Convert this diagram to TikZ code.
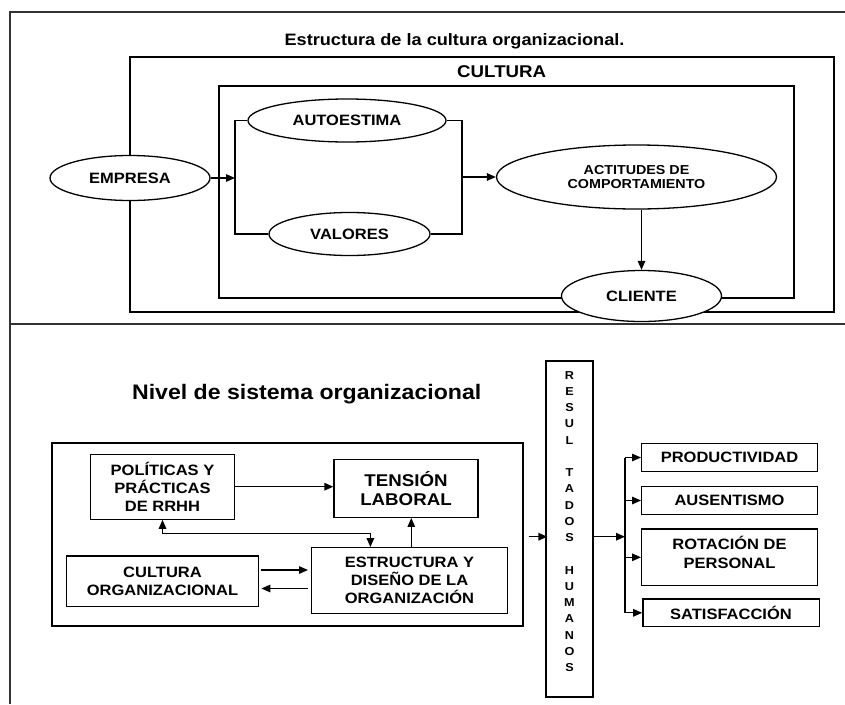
\documentclass[tikz,border=0pt]{standalone}
\usepackage{fontspec}
\setmainfont{Liberation Sans}[FakeStretch=1.1]
\usetikzlibrary{shapes.geometric,arrows.meta}

\begin{document}
\begin{tikzpicture}[x=1pt,y=-1pt,
  line width=1.3pt,
  arr/.style={-{Triangle[length=9pt,width=7.5pt]}},
  arrtwo/.style={{Triangle[length=9pt,width=7.5pt]}-{Triangle[length=9pt,width=7.5pt]}},
  oval/.style={ellipse,draw,fill=white,inner sep=0pt,align=center,
    font=\bfseries\fontsize{15}{17}\selectfont},
  box/.style={rectangle,draw,fill=white,inner sep=0pt,align=center,
    font=\bfseries\fontsize{15}{18.3}\selectfont},
  frameline/.style={draw=black!80,line width=1.8pt},
  heading/.style={inner sep=0pt,font=\bfseries\fontsize{#1}{#1}\selectfont}]
\useasboundingbox (0,0) rectangle (845,704);
\fill[white] (0,0) rectangle (845,704);

% page frame and divider
\draw[frameline] (845,12) -- (10,12) -- (10,704);
\draw[frameline] (10,324) -- (845,324);

% ---------- upper panel: culture structure ----------
\node[heading=16.5] (title) at (454.5,41) {Estructura de la cultura organizacional.};
\draw (130,57) rectangle (834,312);
\node[heading=17] (cultura) at (501.7,72) {CULTURA};
\draw (219,86) rectangle (794,298);

\node[oval,minimum width=160,minimum height=45] (emp) at (130,178) {EMPRESA};
\node[oval,minimum width=198,minimum height=43] (auto) at (347,120.5) {AUTOESTIMA};
\node[oval,minimum width=161,minimum height=43] (val) at (349.5,234) {VALORES};
\node[oval,minimum width=280,minimum height=64,
  font=\bfseries\fontsize{13}{13.5}\selectfont] (act) at (636.5,177)
  {ACTITUDES DE\\COMPORTAMIENTO};
\node[oval,minimum width=160,minimum height=51] (cli) at (641.5,296) {CLIENTE};

\coordinate (bl) at (235,178);
\coordinate (br) at (462,177);
\draw[arr] (emp.east) -- (bl);
\draw (auto.west) -| (bl) |- (val.west);
\draw (auto.east) -| (br) |- (val.east);
\draw[arr] (br) -- (br -| act.west);
\draw[arr] (act.south -| cli.north) -- (cli.north);

% ---------- lower panel: organisational system level ----------
\node[heading=21] (nivel) at (306.7,394.5) {Nivel de sistema organizacional};

\node[box,fill=none,minimum width=471,minimum height=183] (sys) at (287.5,534.5) {};
\node[box,minimum width=144,minimum height=65] (pol) at (162.5,486.7)
  {POLÍTICAS Y\\PRÁCTICAS\\DE RRHH};
\node[box,minimum width=144,minimum height=58,
  font=\bfseries\fontsize{17}{18.7}\selectfont] (ten) at (406,488.3)
  {TENSIÓN\\LABORAL};
\node[box,minimum width=192.5,minimum height=50.7] (cul) at (162.5,581.3)
  {CULTURA\\ORGANIZACIONAL};
\node[box,minimum width=195.7,minimum height=65.6] (est) at (409.5,580.5)
  {ESTRUCTURA Y\\DISEÑO DE LA\\ORGANIZACIÓN};

\draw[arr] (pol.east) -- (pol.east -| ten.west);
\coordinate (jp) at (370.4,533.3);
\draw[arrtwo] (pol.south) |- (jp) -- (jp |- est.north);
\draw[arr] ([xshift=1.8pt]est.north) -- ([xshift=1.8pt]est.north |- ten.south);
\draw[arr,shorten <=2pt,shorten >=3pt] ([yshift=11.3pt]cul.east) -- ([yshift=11.3pt]cul.east -| est.west);
\draw[arr,shorten <=3pt,shorten >=2pt] ([yshift=-8pt]est.west) -- ([yshift=-8pt]est.west -| cul.east);

% human results column
\node[box,minimum width=47,minimum height=336] (res) at (569.5,529) {};
\node[inner sep=0pt,align=center,font=\bfseries\fontsize{11.5}{16.25}\selectfont]
  (restxt) at (569.5,521.4)
  {R\\E\\S\\U\\L\\~\\T\\A\\D\\O\\S\\~\\H\\U\\M\\A\\N\\O\\S};
\draw[arr,shorten >=3pt] ([xshift=5pt,yshift=-2.2pt]sys.east) -- ([xshift=5pt,yshift=-2.2pt]sys.east -| res.west);

% outcomes
\node[box,minimum width=175.6,minimum height=28.4] (prod) at (729.5,457.5) {PRODUCTIVIDAD};
\node[box,minimum width=175.6,minimum height=27.6] (aus) at (729.5,500.5) {AUSENTISMO};
\node[box,minimum width=175.6,minimum height=56.7] (rot) at (729.5,557.3) {};
\node[inner sep=0pt,align=center,font=\bfseries\fontsize{15}{18.3}\selectfont]
  (rottxt) at (729.5,552.5) {ROTACIÓN DE\\PERSONAL};
\node[box,minimum width=176.3,minimum height=27.7] (sat) at (731,612.8) {SATISFACCIÓN};

\coordinate (jn) at (625,536.7);
\draw[arr] (jn -| res.east) -- (jn);
\draw (jn |- prod.west) -- (jn |- sat.west);
\draw[arr] (jn |- prod.west) -- (prod.west);
\draw[arr] (jn |- aus.west) -- (aus.west);
\draw[arr] (jn |- rot.west) -- (rot.west);
\draw[arr] (jn |- sat.west) -- (sat.west);
\end{tikzpicture}
\end{document}
